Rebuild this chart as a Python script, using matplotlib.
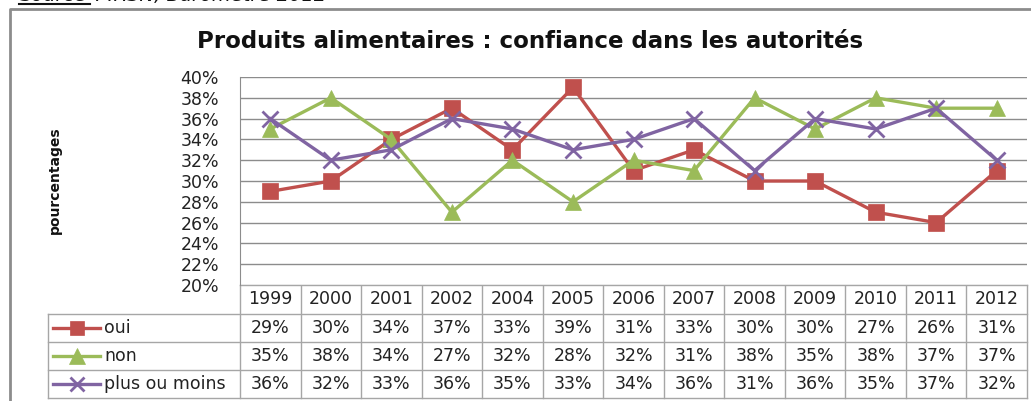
import matplotlib.pyplot as plt
from matplotlib.ticker import PercentFormatter

# data (percent)
years = ['1999', '2000', '2001', '2002', '2004', '2005', '2006',
         '2007', '2008', '2009', '2010', '2011', '2012']
oui = [29, 30, 34, 37, 33, 39, 31, 33, 30, 30, 27, 26, 31]
non = [35, 38, 34, 27, 32, 28, 32, 31, 38, 35, 38, 37, 37]
plus_ou_moins = [36, 32, 33, 36, 35, 33, 34, 36, 31, 36, 35, 37, 32]
series_names = ['oui', 'non', 'plus ou moins']
yticks = list(range(20, 41, 2))

colors = ['#C0504D', '#9BBB59', '#8064A2']
markers = ['s', '^', 'x']
msizes = [11, 12, 11]
series = [oui, non, plus_ou_moins]

plt.rcParams['font.family'] = ['DejaVu Sans']

W, H = 1031, 401
fig = plt.figure(figsize=(W / 100, H / 100), dpi=100)

# plot area in pixel coordinates
px_left, px_right, px_top, px_bottom = 240, 1027, 77, 285
ax = fig.add_axes([px_left / W, 1 - px_bottom / H,
                   (px_right - px_left) / W, (px_bottom - px_top) / H])

for vals, c, m, ms in zip(series, colors, markers, msizes):
    ax.plot(range(len(years)), vals, color=c, lw=2.4, marker=m, ms=ms,
            mew=2 if m == 'x' else 0.5, mec=c, mfc=c, zorder=3)

ax.set_xlim(-0.5, len(years) - 0.5)
ax.set_ylim(20, 40)
ax.set_yticks(yticks)
ax.yaxis.set_major_formatter(PercentFormatter(decimals=0))
ax.tick_params(axis='y', length=0, pad=15, labelsize=12.5, colors='#222222')
ax.set_xticks([])
ax.grid(axis='y', color='#8c8c8c', lw=1)
for s in ['top', 'right', 'bottom']:
    ax.spines[s].set_visible(False)
ax.spines['left'].set_color('#8c8c8c')

# overlay for table, title and frame
ov = fig.add_axes([0, 0, 1, 1], zorder=-1)
ov.set_xlim(0, W)
ov.set_ylim(H, 0)
ov.axis('off')

grid_c = '#a6a6a6'
colw = (px_right - px_left) / len(years)
row_edges = [285, 314, 342, 370, 398]
label_left = 48

# header row with years
for i, yr in enumerate(years):
    xc = px_left + (i + 0.5) * colw
    ov.text(xc, (row_edges[0] + row_edges[1]) / 2, yr, ha='center', va='center',
            fontsize=12.5, color='#222222')
# value rows with legend keys
for r, (name, vals, c, m, ms) in enumerate(zip(series_names, series, colors, markers, msizes)):
    yc = (row_edges[r + 1] + row_edges[r + 2]) / 2
    for i, v in enumerate(vals):
        xc = px_left + (i + 0.5) * colw
        ov.text(xc, yc, f'{v}%', ha='center', va='center', fontsize=12.5, color='#222222')
    ov.plot([53, 100], [yc, yc], color=c, lw=2.4)
    ov.plot([76.5], [yc], marker=m, ms=ms - 1, color=c, mec=c,
            mew=2 if m == 'x' else 0.5)
    ov.text(104, yc, name, ha='left', va='center', fontsize=12.5, color='#222222')

# table lines
for y in row_edges:
    x_start = px_left if y == row_edges[0] else label_left
    ov.plot([x_start, px_right], [y, y], color=grid_c, lw=1)
for i in range(len(years) + 1):
    x = px_left + i * colw
    ov.plot([x, x], [row_edges[0], row_edges[-1]], color=grid_c, lw=1)
ov.plot([label_left, label_left], [row_edges[1], row_edges[-1]], color=grid_c, lw=1)

# outer frame
ov.plot([10, 10, 1040], [410, 9, 9], color='#8c8c8c', lw=2)

# title and axis label
ov.text(530, 41, 'Produits alimentaires : confiance dans les autorités',
        ha='center', va='center', fontsize=16.5, fontweight='bold', color='#111111')
ov.text(55, 180, 'pourcentages', rotation=90, ha='center', va='center',
        fontsize=10, fontweight='bold', color='#111111')

# source line, mostly cropped at the top edge as in the original screenshot
ov.text(19, 1, 'Source', ha='left', va='baseline', fontsize=14, color='#111111')
ov.plot([19, 90], [4, 4], color='#111111', lw=1.5)
ov.text(95, 1, ': IRSN, Baromètre 2012', ha='left', va='baseline', fontsize=14,
        style='italic', color='#111111')

fig.savefig('out.png', dpi=100)
